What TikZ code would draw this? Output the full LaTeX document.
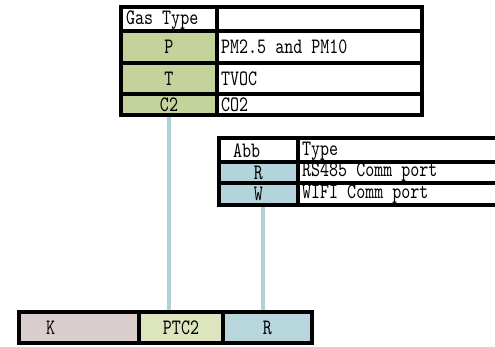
\documentclass[tikz,border=0pt]{standalone}
\usepackage{fontspec}
\usepackage{tikz}
\newfontfamily\cellfont[FakeStretch=0.78]{lmmono10-regular.otf}
\definecolor{gasgreen}{HTML}{C3D39B}
\definecolor{abbblue}{HTML}{B3D4DA}
\definecolor{barpink}{HTML}{D9CDCD}
\definecolor{barlime}{HTML}{DCE5BE}
\definecolor{barblue}{HTML}{B8D7DD}
\definecolor{linkblue}{HTML}{B0D1D8}

\begin{document}
\begin{tikzpicture}[x=1pt,y=-1pt,font=\cellfont\fontsize{22}{22}\selectfont,
  grid/.style={line width=3.3pt,line cap=rect},
  fillcell/.style={fill=#1,inner sep=0pt,minimum width=92pt},
  txt/.style={anchor=west,inner sep=0pt},
  barcell/.style={fill=#1,inner sep=0pt,minimum height=27pt},
  link/.style={draw=linkblue,line width=4pt}]
\useasboundingbox (0,0) rectangle (495,346);
% gas type table
\node[txt] (gashead) at (126,20) {Gas Type};
\node[fillcell=gasgreen,minimum height=28pt] (p) at (169,47) {P};
\node[fillcell=gasgreen,minimum height=27pt] (t) at (169,78.5) {T};
\node[fillcell=gasgreen,minimum height=17pt] (c2) at (169,104.5) {C2};
\node[txt] (pm) at (221,47) {PM2.5 and PM10};
\node[txt] (tvoc) at (221,78.5) {TVOC};
\node[txt] (co2) at (221,104.5) {CO2};
% abbreviation table
\node[txt] (abbhead) at (233,151) {Abb};
\node[fillcell=abbblue,minimum width=75pt,minimum height=18pt] (r) at (258.5,172.5) {R};
\node[fillcell=abbblue,minimum width=75pt,minimum height=18pt] (w) at (258.5,194) {W};
\node[txt] (typehead) at (302,151) {Type};
\node[txt] (rs) at (302,172.5) {RS485 Comm port};
\node[txt] (wifi) at (302,194) {WIFI Comm port};
% bottom bar
\node[barcell=barpink,minimum width=116pt,text width=66pt,align=left] (k) at (79,327.5) {K};
\node[barcell=barlime,minimum width=80pt] (ptc) at (181,327.5) {PTC2};
\node[barcell=barblue,minimum width=85pt] (rb) at (267.5,327.5) {R};
% links
\coordinate (wdrop) at ([xshift=4.5pt]w.south);
\draw[link] (c2.south) -- (c2.south |- ptc.north);
\draw[link] (wdrop) -- (wdrop |- rb.north);
% borders
\draw[grid] (121,7) rectangle (422,115);
\foreach \y in {31,63,94} {
   \draw[grid] (121,\y) -- (422,\y);
}
\draw[grid] (217,7) -- (217,115);
\draw[grid] (498,138) -- (219,138) -- (219,205) -- (498,205);
\foreach \y in {162,183} {
   \draw[grid] (219,\y) -- (498,\y);
}
\draw[grid] (298,138) -- (298,205);
\draw[grid] (19,312) rectangle (312,343);
\foreach \x in {139,223} {
   \draw[grid] (\x,312) -- (\x,343);
}
\end{tikzpicture}
\end{document}
